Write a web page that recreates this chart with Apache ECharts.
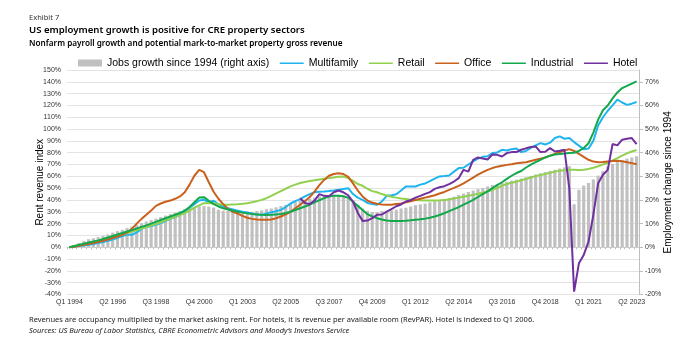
<!DOCTYPE html>
<html><head><meta charset="utf-8">
<script src="https://cdn.jsdelivr.net/npm/echarts@6/dist/echarts.min.js"></script>
<style>html,body{margin:0;padding:0;background:#fff}#c{width:700px;height:339px}</style>
</head><body><div id="c"></div>
<script>
// Quarterly categories Q1 1994 .. Q3 2023
const categories = [];
for (let y = 1994; y <= 2023; y++) {
  for (let q = 1; q <= 4; q++) {
    if (y === 2023 && q > 3) break;
    categories.push('Q' + q + ' ' + y);
  }
}

// Jobs growth since 1994 (right axis, %)
const jobs = [0.0,0.9,1.8,2.7,3.4,3.8,4.3,4.8,5.4,6.2,
  6.8,7.4,8.1,8.8,9.5,10.2,10.9,11.5,12.1,12.8,
  13.4,14.0,14.6,15.3,16.1,16.8,16.9,17.3,17.4,17.2,
  16.8,15.9,15.5,15.4,15.3,15.3,15.2,15.0,15.0,15.3,
  15.6,16.1,16.4,16.9,17.4,17.9,18.5,19.1,19.8,20.2,
  20.6,21.0,21.5,21.8,22.0,22.3,22.2,21.8,21.1,19.9,
  18.0,16.3,15.4,14.9,14.8,15.3,15.3,15.6,15.9,16.4,
  16.7,17.2,17.8,18.1,18.5,19.0,19.5,20.0,20.4,20.9,
  21.4,22.1,22.7,23.4,24.0,24.6,25.1,25.7,26.3,26.8,
  27.2,27.7,28.2,28.6,29.1,29.6,30.2,30.8,31.3,31.8,
  32.3,32.8,33.3,33.8,34.3,18.2,24.3,26.1,27.2,28.7,
  30.3,32.2,34.2,35.3,36.0,36.8,37.5,38.0,38.5];

const multifamily = [0,0.5,1,1.5,2,2.8,3.5,4.5,5.4,6.5,
  8,9.5,10.5,10.5,12.5,15.5,17.2,18,19,20.5,
  22.3,24,25.5,27.5,30.2,33.5,36.5,39.5,40.1,38.1,
  39.3,36.5,34.5,33,32,31,30,29.5,28.5,27.6,
  27.4,28.5,29.7,30.5,31.6,34,37,39,40.7,43,
  45,46.5,47,47.2,47.5,48,48.6,49.3,50,45,
  42,40,37.5,36.5,35.9,38.7,43.5,44,44.9,48,
  51.4,51.5,51.4,53,54,56,58,59.9,60.2,60.7,
  64,67,67.3,70,72.6,75,76.5,77,79.7,80.2,
  82.5,81.8,83,83.5,80.5,81.5,84,86.2,88.1,87,
  88.5,92.4,93.8,91.8,92.4,89,86,83,83.5,90,
  103,110,115.5,120,124.9,122.5,120.5,121.5,122.9];

const retail = [0,0.8,1.6,2.4,3.2,4,5,6,7,8.2,
  9.4,10.6,11.9,13.2,14.5,15.8,17,18.3,19.7,21.2,
  22.7,24.2,25.7,27.2,28.9,31,33.5,35.5,37.3,37.5,
  37.2,36.5,36,36,36.2,36.4,36.8,37.3,38,39,
  40.1,41.5,43.5,45.5,47.5,49.5,51.5,53,54.3,55.2,
  56,56.6,57.3,57.9,58.5,59,59.6,59.9,58.5,56.2,
  53.5,52,49.5,47.5,46.5,45,43.8,42.8,42,41.3,
  40.8,40.3,40,39.8,39.6,39.5,39.5,39.7,40,40.5,
  41.3,42,42.8,43.5,44.3,45.2,46.2,47.2,48.5,50,
  52,53.5,54.5,55.5,56.7,57.8,59,60.2,61.2,62,
  63,64,64.7,65.2,65.5,65.5,65.3,65.5,66.2,67.3,
  68.5,70,71.5,73.5,75.5,77.5,79.5,81,82.3];

const office = [0,0.5,1.2,2.0,2.8,3.5,4.5,5.5,6.5,7.8,
  9.0,10.5,12.5,15.5,20,24,27.5,31,35,37,
  38.5,39.5,41,43,46.5,53,60.5,65.5,63.5,55,
  47,41,36.5,32.5,30,28.5,26.5,25,24,23.5,
  23.2,23.2,23.5,24.5,26,27.8,30,33,36,39,
  42.5,47,52.5,57,60.5,62,62.7,62,59.5,54,
  48,43,39.5,37.8,36.8,36.2,35.9,36,36.5,37,
  38,39,40,41,42,43,44,45.5,46.8,48.5,
  50.2,52,54,56.5,59,61.5,63.5,65.5,67,68.2,
  69,69.7,70.3,71,71.5,72,73,74,75,76,
  77.5,79,80.5,81.8,83,81.5,79,76.5,74,72.5,
  72,72.2,72.6,73,73.2,72.8,72,71.2,70.3];

const industrial = [0,1,2,3,4,4.8,5.8,7,8.3,9.5,
  10.8,12,13.3,14.5,15.8,17.2,18.5,20,21.5,23,
  24.5,26,27.5,29,31,34,38,42,42.4,39.3,
  36.5,34.5,33,32,31,30,29.3,28.7,28.2,27.8,
  27.4,27.3,27.4,27.8,28.2,29,30,31.5,33,34.5,
  36,38,39.8,41.5,43,43.5,43.5,43.2,42,38.5,
  35,31.5,28,26,24.6,23.5,22.6,22.3,22.2,22.3,
  22.5,22.8,23.2,23.6,24.2,25,26,27.3,28.8,30.5,
  32.2,34,36,38,40,42.5,45,47.3,50,52.5,
  55,57.8,60.5,62.8,64.5,67.5,70,72,74,76,
  77.5,78.5,79,79.3,79.7,80,81.5,84,88,97,
  108,116,120,126,131,134.7,136.5,138.5,140.4];

// Hotel indexed to Q1 2006 (starts at index 48)
const hotel = [null,null,null,null,null,null,null,null,null,null,
  null,null,null,null,null,null,null,null,null,null,
  null,null,null,null,null,null,null,null,null,null,
  null,null,null,null,null,null,null,null,null,null,
  null,null,null,null,null,null,null,null,41.5,37.5,
  36.5,39.5,45,43.5,43.2,46.5,48,46.5,44,38.7,
  29,22.3,22.6,24.6,27.4,27.7,30.2,32.2,34.7,36.2,
  38.7,39.8,42,43.5,45.2,46.6,49.4,50.8,51.7,53.4,
  55.6,58.5,65.5,64,74,76,75.1,74.3,78.5,78.2,
  76.8,79.7,80.5,80.5,82.5,83.7,84.8,85.3,80.5,80.8,
  83.9,81,81.6,82.5,50,-37.6,-13.6,-6.5,4.8,27.4,
  54.2,61.3,65.5,87.3,86.2,91,91.8,92.4,87.3];

const leftAxis = { min: -40, max: 150, step: 10 };
const rightAxis = { min: -20, max: 75, step: 10 };

const AX = 'Liberation Sans';
const TF = 'Noto Sans';
// thin horizontal line icon (tiny corner dots keep the box height)
const LINE_ICON = 'path://M0,0L0.01,0L0.01,0.01Z M0,2.9L24,2.9L24,4.4L0,4.4Z M0,7L0.01,7L0.01,7.01Z';
const chart = echarts.init(document.getElementById('c'), null, { renderer: 'canvas' });

function line(name, data, color) {
  return { name, type: 'line', data, yAxisIndex: 0, xAxisIndex: 0, symbol: 'none', showSymbol: false,
    lineStyle: { color, width: 2 }, itemStyle: { color }, connectNulls: false, animation: false, z: 3 };
}

chart.setOption({
  animation: false,
  title: [
    { text: 'Exhibit 7', left: 29, top: 14, padding: 0, textStyle: { fontFamily: TF, fontSize: 7.5, fontWeight: 'normal', color: '#333' } },
    { text: 'US employment growth is positive for CRE property sectors', left: 29, top: 25.5, padding: 0, textStyle: { fontFamily: TF, fontSize: 9.6, fontWeight: 600, color: '#000' } },
    { text: 'Nonfarm payroll growth and potential mark-to-market property gross revenue', left: 29, top: 40, padding: 0, textStyle: { fontFamily: TF, fontSize: 8.2, fontWeight: 600, color: '#000' } },
    { text: 'Revenues are occupancy multiplied by the market asking rent. For hotels, it is revenue per available room (RevPAR). Hotel is indexed to Q1 2006.', left: 29, top: 316, padding: 0, textStyle: { fontFamily: TF, fontSize: 7.5, fontWeight: 'normal', color: '#222' } },
    { text: 'Sources: US Bureau of Labor Statistics, CBRE Econometric Advisors and Moody\u2019s Investors Service', left: 29, top: 326.5, padding: 0, textStyle: { fontFamily: TF, fontSize: 7.5, fontStyle: 'italic', fontWeight: 'normal', color: '#222' } }
  ],
  legend: {
    left: 78, top: 57.5, padding: 0, itemGap: 10.5, itemWidth: 24, itemHeight: 7,
    textStyle: { fontFamily: AX, fontSize: 10.5, color: '#000' },
    data: [
      { name: 'Jobs growth since 1994 (right axis)', icon: 'rect' },
      { name: 'Multifamily', icon: LINE_ICON },
      { name: 'Retail', icon: LINE_ICON },
      { name: 'Office', icon: LINE_ICON },
      { name: 'Industrial', icon: LINE_ICON },
      { name: 'Hotel', icon: LINE_ICON }
    ]
  },
  grid: { left: 67, right: 61, top: 70, bottom: 44.5, containLabel: false },
  xAxis: [
    { type: 'category', data: categories, boundaryGap: true, position: 'bottom',
      axisLine: { show: false, onZero: false }, axisTick: { show: false },
      axisLabel: { interval: 8, fontFamily: AX, fontSize: 7, color: '#333', margin: 4 },
      splitLine: { show: false } },
    { type: 'category', data: categories, boundaryGap: true, position: 'bottom',
      axisLine: { show: true, onZero: true, lineStyle: { color: '#d0d0d0', width: 1 } },
      axisTick: { show: true, interval: 0, length: 2, lineStyle: { color: '#bbb' } },
      axisLabel: { show: false }, splitLine: { show: false } }
  ],
  yAxis: [
    { type: 'value', position: 'left', min: leftAxis.min, max: leftAxis.max, interval: leftAxis.step,
      name: 'Rent revenue index', nameLocation: 'middle', nameGap: 21.5, nameRotate: 90, nameMoveOverlap: false,
      nameTextStyle: { fontFamily: AX, fontSize: 10, color: '#000' },
      axisLine: { show: false }, axisTick: { show: false },
      axisLabel: { formatter: '{value}%', fontFamily: AX, fontSize: 7, color: '#333', margin: 6 },
      splitLine: { show: true, lineStyle: { color: '#e3e3e3', width: 1 } } },
    { type: 'value', position: 'right', min: rightAxis.min, max: rightAxis.max, interval: rightAxis.step,
      name: 'Employment change since 1994', nameLocation: 'middle', nameGap: 24, nameRotate: 90, nameMoveOverlap: false,
      nameTextStyle: { fontFamily: AX, fontSize: 10, color: '#000' },
      axisLine: { show: true, lineStyle: { color: '#bfbfbf' } },
      axisTick: { show: true, length: 4, lineStyle: { color: '#bfbfbf' } },
      axisLabel: { formatter: '{value}%', fontFamily: AX, fontSize: 7, color: '#333', margin: 6, showMaxLabel: false },
      splitLine: { show: false } }
  ],
  series: [
    { name: 'Jobs growth since 1994 (right axis)', type: 'bar', data: jobs, xAxisIndex: 0, yAxisIndex: 1,
      barWidth: '66%', itemStyle: { color: '#c0c0c0' }, z: 2 },
    line('Multifamily', multifamily, '#1fb4ef'),
    line('Retail', retail, '#92d050'),
    line('Office', office, '#c9601c'),
    line('Industrial', industrial, '#12a84b'),
    line('Hotel', hotel, '#7030a0')
  ]
});
</script></body></html>
